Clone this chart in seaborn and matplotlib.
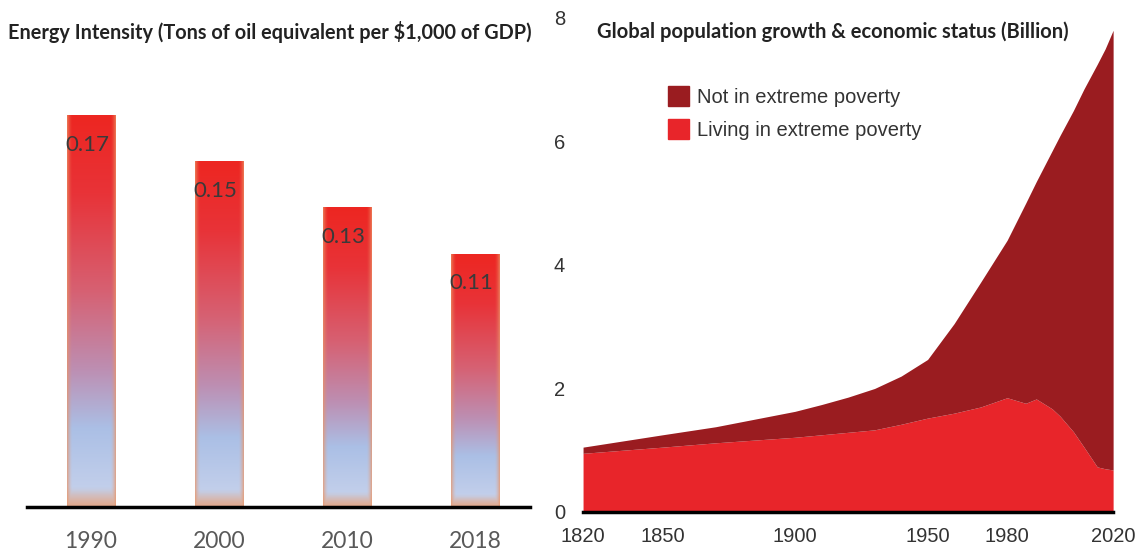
import numpy as np
import pandas as pd
import seaborn as sns
import matplotlib.pyplot as plt
from matplotlib.patches import Patch

# left panel data
bar_years = ["1990", "2000", "2010", "2018"]
intensity = [0.17, 0.15, 0.13, 0.11]

# right panel data (billion people)
pop_years = [1820, 1850, 1870, 1900, 1910, 1920, 1930, 1940, 1950, 1960, 1970, 1980,
             1987, 1991, 1997, 2000, 2005, 2009, 2014, 2017, 2020]
total_pop = [1.05, 1.25, 1.38, 1.63, 1.74, 1.86, 2.0, 2.2, 2.47, 3.05, 3.72, 4.4,
             5.0, 5.35, 5.85, 6.1, 6.5, 6.85, 7.25, 7.5, 7.8]
poverty = [0.95, 1.05, 1.12, 1.21, 1.25, 1.29, 1.33, 1.42, 1.52, 1.6, 1.7, 1.85,
           1.76, 1.83, 1.67, 1.55, 1.3, 1.05, 0.73, 0.7, 0.68]
not_poor = [t - p for t, p in zip(total_pop, poverty)]
x_ticks = [1820, 1850, 1900, 1950, 1980, 2020]

sns.set_theme(style="white")
plt.rcParams['font.family'] = ['Lato', 'DejaVu Sans']

fig = plt.figure(figsize=(11.37, 5.52), dpi=100)
ax1 = fig.add_axes([0.0237, 0.0815, 0.4425, 0.835])
ax2 = fig.add_axes([0.5128, 0.0725, 0.4662, 0.895])

# ---- left: gradient bars
df = pd.DataFrame({"year": bar_years, "value": intensity})
sns.barplot(data=df, x="year", y="value", ax=ax1, width=0.375, color="white")
ax1.set_xlim(-0.5, 3.43)
ax1.set_ylim(0, 0.2)

# build gradient image
H, W = 300, 60
t = np.linspace(0, 1, H)[:, None]
u = np.linspace(0, 1, W)[None, :]
stops = [0.0, 0.2, 0.45, 0.65, 0.8, 0.95, 1.0]
cols = np.array([
    [0.93, 0.15, 0.13],
    [0.91, 0.20, 0.22],
    [0.84, 0.38, 0.45],
    [0.74, 0.56, 0.70],
    [0.67, 0.75, 0.90],
    [0.76, 0.81, 0.92],
    [0.86, 0.72, 0.66],
])
base = np.stack([np.interp(t[:, 0], stops, cols[:, k]) for k in range(3)], axis=-1)
img = np.repeat(base[:, None, :], W, axis=1)
edge = np.clip(1 - np.minimum(u, 1 - u) / 0.11, 0, 1) ** 1.8
bottom = np.clip(1 - (1 - t) / 0.04, 0, 1)
w = np.maximum(edge * 0.7, bottom * 0.45)[..., None]
orange = np.array([0.92, 0.58, 0.40])
img = img * (1 - w) + orange * w

for p, v in zip(ax1.patches, intensity):
    x0, h, bw = p.get_x(), p.get_height(), p.get_width()
    im = ax1.imshow(img, extent=[x0, x0 + bw, 0, h], aspect="auto", zorder=2)
    im.set_clip_path(p)
    p.set_facecolor("none")
    p.set_edgecolor("none")
    ax1.text(x0 - 0.01, h - 0.013, f"{v:.2f}", ha="left", va="center",
             fontsize=16, color="#3a3a3a", zorder=3)

for s in ["top", "right", "left"]:
    ax1.spines[s].set_visible(False)
ax1.spines["bottom"].set_color("black")
ax1.spines["bottom"].set_linewidth(2.5)
ax1.set_xlabel("")
ax1.set_ylabel("")
ax1.set_yticks([])
ax1.tick_params(axis="x", labelsize=16.5, labelcolor="#595959", length=0, pad=17)

fig.text(0.007, 0.942, "Energy Intensity (Tons of oil equivalent per $1,000 of GDP)",
         fontsize=14.3, fontweight="bold", color="#222222", va="center")

# ---- right: stacked area
ax2.stackplot(pop_years, poverty, not_poor, colors=["#e8252a", "#9a1c20"],
              linewidth=0)
ax2.set_xlim(1820, 2020)
ax2.set_ylim(0, 8)
ax2.set_xticks(x_ticks)
ax2.set_yticks([0, 2, 4, 6, 8])
for s in ["top", "right", "left"]:
    ax2.spines[s].set_visible(False)
ax2.spines["bottom"].set_color("black")
ax2.spines["bottom"].set_linewidth(2.5)
ax2.tick_params(length=0, labelsize=14.5, labelcolor="#333333")
ax2.tick_params(axis="x", pad=11)
ax2.tick_params(axis="y", pad=13)
for lab in ax2.get_xticklabels() + ax2.get_yticklabels():
    lab.set_fontfamily("Liberation Sans")

handles = [Patch(color="#9a1c20", label="Not in extreme poverty"),
           Patch(color="#e8252a", label="Living in extreme poverty")]
ax2.legend(handles=handles, loc="upper left", bbox_to_anchor=(0.16, 0.862),
           frameon=False, borderpad=0, borderaxespad=0,
           handlelength=1.05, handleheight=1.15, handletextpad=0.4,
           labelspacing=0.6, prop={"family": "Liberation Sans", "size": 14.5},
           labelcolor="#333333")

fig.text(0.525, 0.942, "Global population growth & economic status (Billion)",
         fontsize=14.5, fontweight="bold", color="#222222", va="center")

fig.savefig("out.png", dpi=100, facecolor="white")
